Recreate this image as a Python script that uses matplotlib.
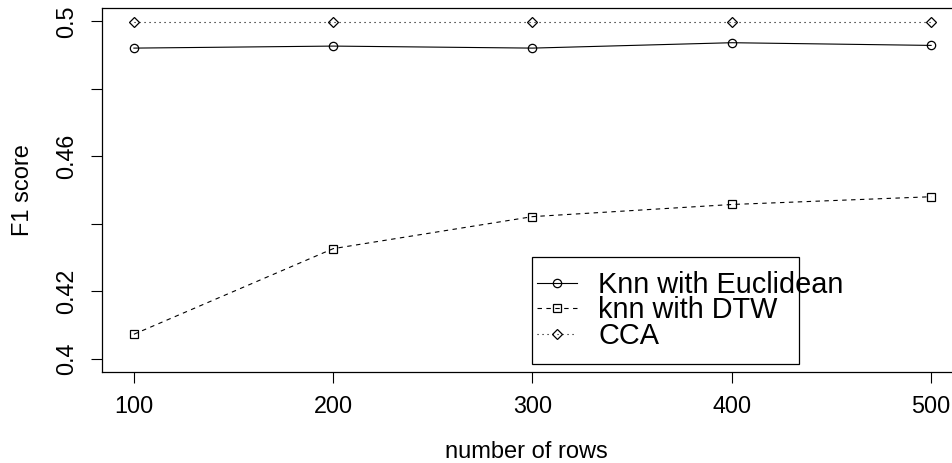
# F1 score vs number of rows for three classifiers
import matplotlib.pyplot as plt
from matplotlib.patches import Rectangle

plt.rcParams['font.family'] = ['Liberation Sans', 'DejaVu Sans']

rows = [100, 200, 300, 400, 500]
f1_euclid = [0.4921, 0.4927, 0.4921, 0.4937, 0.4929]
f1_dtw = [0.4072, 0.4326, 0.4421, 0.4457, 0.4480]
f1_cca = [0.4999, 0.4999, 0.4999, 0.4999, 0.4999]

yticks = [0.40, 0.42, 0.44, 0.46, 0.48, 0.50]
ytick_labels = ['0.4', '0.42', '', '0.46', '', '0.5']
labels = ['Knn with Euclidean', 'knn with DTW', 'CCA']

fig = plt.figure(figsize=(9.53, 4.63), dpi=100)
# R style plot box; right edge of the frame falls outside the image
ax = fig.add_axes([102/953, 91/463, 861/953, 364/463])

lw = 0.8
ax.plot(rows, f1_euclid, color='black', lw=lw, marker='o', ms=6,
        mfc='none', mec='black', mew=0.9, label=labels[0])
ax.plot(rows, f1_dtw, color='black', lw=lw, ls=(0, (4, 4)), marker='s', ms=5.5,
        mfc='none', mec='black', mew=0.9, label=labels[1])
ax.plot(rows, f1_cca, color='black', lw=lw, ls=(0, (1, 3.5)), marker='D', ms=5.5,
        mfc='none', mec='black', mew=0.9, label=labels[2])

ax.set_xlim(84, 516)
ax.set_ylim(0.396, 0.504)
ax.set_xticks(rows)
ax.set_xticklabels([str(r) for r in rows])
ax.set_yticks(yticks)
ax.set_yticklabels(ytick_labels, rotation=90, va='center')
ax.tick_params(axis='both', direction='out', length=8, width=0.8,
               labelsize=16.8, color='black')
ax.tick_params(axis='x', pad=8.5)
ax.tick_params(axis='y', pad=9.5)
for sp in ax.spines.values():
    sp.set_linewidth(0.9)

ax.set_xlabel('number of rows', fontsize=17, va='center')
ax.xaxis.set_label_coords((526 - 102) / 861, -80 / 364)
ax.set_ylabel('F1 score', fontsize=17, va='center')
ax.yaxis.set_label_coords(-79 / 861, 0.5)

# legend: R draws the box smaller than the text
leg = ax.legend(loc='upper left', bbox_to_anchor=(537/953, 1 - 271/463),
                bbox_transform=fig.transFigure, frameon=False, fontsize=20.8,
                handlelength=1.4, handletextpad=0.72, labelspacing=-0.09,
                borderpad=0, borderaxespad=0)
fig.add_artist(Rectangle((532/953, 1 - 364/463), 267/953, 107/463,
                         transform=fig.transFigure, fill=False,
                         edgecolor='black', lw=0.9))

fig.savefig('out.png', dpi=100)
